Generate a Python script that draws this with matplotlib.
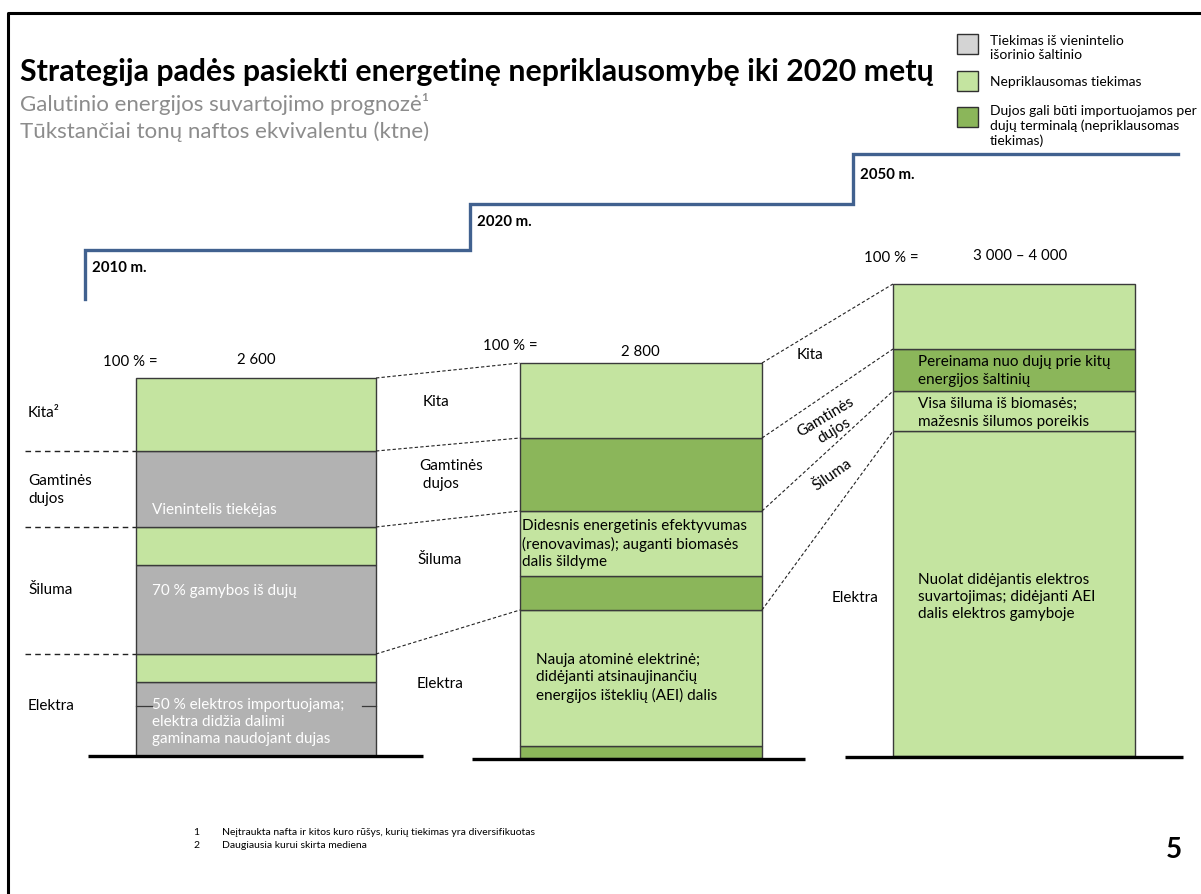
import matplotlib
matplotlib.use("Agg")
import matplotlib.pyplot as plt
import matplotlib.patches as mpatches
import numpy as np

plt.rcParams['font.family'] = ['Lato', 'DejaVu Sans']

# --- data (segment heights in chart units, bottom to top) ---
years = ["2010 m.", "2020 m.", "2050 m."]
totals = ["2 600", "2 800", "3 000 – 4 000"]

seg_2010 = [74, 28, 89, 38, 76, 73]
col_2010 = ["G", "L", "G", "L", "G", "L"]
cat_2010 = [0, 0, 1, 1, 2, 3]

seg_2020 = [12, 136, 34, 65, 73, 75]
col_2020 = ["D", "L", "D", "L", "D", "L"]
cat_2020 = [0, 0, 1, 1, 2, 3]

seg_2050 = [325, 40, 42, 65]
col_2050 = ["L", "L", "D", "L"]
cat_2050 = [0, 1, 2, 3]

legend_labels = ["Tiekimas iš vienintelio\nišorinio šaltinio",
                 "Nepriklausomas tiekimas",
                 "Dujos gali būti importuojamos per\ndujų terminalą (nepriklausomas\ntiekimas)"]

colors = {"G": "#b2b2b2", "L": "#c4e4a0", "D": "#8bb65a"}
edge = "#3a3a3a"

# layout
bar_x = [256, 641, 1014]
bar_w = [240, 242, 242]
bar_base = [757, 759, 757]

fig = plt.figure(figsize=(12.01, 8.95), dpi=100)
ax = fig.add_axes([0, 0, 1, 1])
ax.set_xlim(0, 1201)
ax.set_ylim(895, 0)
ax.axis("off")

# frame
ax.plot([8, 8, 1201], [895, 14, 14], color="black", lw=2.2, solid_capstyle="butt")

# title and subtitles
ax.text(20, 72, "Strategija padės pasiekti energetinę nepriklausomybę iki 2020 metų",
        fontsize=21.8, fontweight="bold", va="center", ha="left")
ax.text(20, 104, "Galutinio energijos suvartojimo prognozė¹", fontsize=16,
        color="#8c8c8c", va="center")
ax.text(20, 132, "Tūkstančiai tonų naftos ekvivalentu (ktne)", fontsize=16,
        color="#8c8c8c", va="center")

# legend
leg_box_y = [35, 72, 108]
leg_text_y = [48, 82, 126]
leg_cols = ["#d4d4d4", colors["L"], colors["D"]]
for by, ty, c, lab in zip(leg_box_y, leg_text_y, leg_cols, legend_labels):
    ax.add_patch(mpatches.Rectangle((957, by), 21, 20, facecolor=c,
                                    edgecolor="#303030", lw=1.0))
    ax.text(990, ty, lab, fontsize=10, va="center", ha="left", linespacing=1.2)

# staircase
stair_x = [85, 85, 470, 470, 853, 853, 1178]
stair_y = [300, 251, 251, 205, 205, 155, 155]
ax.plot(stair_x, stair_y, color="#41618f", lw=2.4, solid_joinstyle="miter")
year_pos = [(92, 268), (477, 222), (860, 175)]
for (yx, yy), lab in zip(year_pos, years):
    ax.text(yx, yy, lab, fontsize=10.8, fontweight="bold", va="center")

# bars
all_segs = [seg_2010, seg_2020, seg_2050]
all_cols = [col_2010, col_2020, col_2050]
all_cats = [cat_2010, cat_2020, cat_2050]
cat_edges = []  # y of category boundaries (top of each category) per bar
for i in range(3):
    segs = np.array(all_segs[i])
    bottoms = bar_base[i] - np.concatenate([[0], np.cumsum(segs)[:-1]])
    ax.bar(bar_x[i], -segs, bottom=bottoms, width=bar_w[i],
           color=[colors[c] for c in all_cols[i]], edgecolor=edge, lw=1.0)
    cats = np.array(all_cats[i])
    tops = []
    for k in range(4):
        tops.append(bar_base[i] - segs[cats <= k].sum())
    cat_edges.append(tops)

# small text-box edge left inside the first bar
ax.plot([136, 152], [707, 707], color=edge, lw=0.9)
ax.plot([362, 376], [707, 707], color=edge, lw=0.9)

# base lines
base_lines = [(88, 423), (472, 805), (845, 1183)]
base_y = [757, 760, 758]
for (x0, x1), by in zip(base_lines, base_y):
    ax.plot([x0, x1], [by, by], color="black", lw=2.4, solid_capstyle="butt")

# dashed connectors
dash = dict(color="#222222", lw=0.8, ls=(0, (3, 2)))
for i in range(2):
    xr = bar_x[i] + bar_w[i] / 2
    xl = bar_x[i + 1] - bar_w[i + 1] / 2
    for k in range(4):
        ax.plot([xr, xl], [cat_edges[i][k], cat_edges[i + 1][k]], **dash)
for k in range(3):
    ax.plot([25, bar_x[0] - bar_w[0] / 2], [cat_edges[0][k], cat_edges[0][k]],
            color="#222222", lw=1.0, ls=(0, (4, 3)))

# totals
tfs = 10.8
ax.text(103, 362, "100 % =", fontsize=tfs, va="center")
ax.text(256, 360, totals[0], fontsize=tfs, va="center", ha="center")
ax.text(483, 346, "100 % =", fontsize=tfs, va="center")
ax.text(640, 352, totals[1], fontsize=tfs, va="center", ha="center")
ax.text(864, 258, "100 % =", fontsize=tfs, va="center")
ax.text(973, 256, totals[2], fontsize=tfs, va="center")

fs = 11
# left category labels
ax.text(28, 413, "Kita²", fontsize=fs, va="center")
ax.text(28, 490, "Gamtinės\ndujos", fontsize=fs, va="center", linespacing=1.3)
ax.text(28, 590, "Šiluma", fontsize=fs, va="center")
ax.text(28, 706, "Elektra", fontsize=fs, va="center")

# bar 2010 texts
ax.text(152, 510, "Vienintelis tiekėjas", fontsize=fs, color="white", va="center")
ax.text(152, 591, "70 % gamybos iš dujų", fontsize=fs, color="white", va="center")
ax.text(152, 722, "50 % elektros importuojama;\nelektra didžia dalimi\ngaminama naudojant dujas",
        fontsize=fs, color="white", va="center", linespacing=1.3)

# middle labels
ax.text(423, 402, "Kita", fontsize=fs, va="center")
ax.text(419, 475, "Gamtinės\n dujos", fontsize=fs, va="center", linespacing=1.3)
ax.text(417, 560, "Šiluma", fontsize=fs, va="center")
ax.text(417, 684, "Elektra", fontsize=fs, va="center")

# bar 2020 texts
ax.text(522, 544, "Didesnis energetinis efektyvumas\n(renovavimas); auganti biomasės\ndalis šildyme",
        fontsize=fs, va="center", linespacing=1.3)
ax.text(536, 678, "Nauja atominė elektrinė;\ndidėjanti atsinaujinančių\nenergijos išteklių (AEI) dalis",
        fontsize=fs, va="center", linespacing=1.3)

# right labels
ax.text(797, 355, "Kita", fontsize=fs, va="center")
ax.text(830, 424, "Gamtinės\ndujos", fontsize=fs, va="center", ha="center",
        rotation=31, rotation_mode="anchor", linespacing=1.15)
ax.text(832, 475, "Šiluma", fontsize=fs, va="center", ha="center",
        rotation=35, rotation_mode="anchor")
ax.text(832, 598, "Elektra", fontsize=fs, va="center")

# bar 2050 texts
ax.text(918, 371, "Pereinama nuo dujų prie kitų\nenergijos šaltinių", fontsize=fs,
        va="center", linespacing=1.3)
ax.text(918, 413, "Visa šiluma iš biomasės;\nmažesnis šilumos poreikis", fontsize=fs,
        va="center", linespacing=1.3)
ax.text(918, 597, "Nuolat didėjantis elektros\nsuvartojimas; didėjanti AEI\ndalis elektros gamyboje",
        fontsize=fs, va="center", linespacing=1.3)

# footnotes
ax.text(193, 833, "1", fontsize=7.5, va="center")
ax.text(222, 833, "Neįtraukta nafta ir kitos kuro rūšys, kurių tiekimas yra diversifikuotas",
        fontsize=7.5, va="center")
ax.text(193, 846, "2", fontsize=7.5, va="center")
ax.text(222, 846, "Daugiausia kurui skirta mediena", fontsize=7.5, va="center")

# page number
ax.text(1174, 850, "5", fontsize=20, fontweight="bold", va="center", ha="center")

fig.savefig("out.png", dpi=100)
